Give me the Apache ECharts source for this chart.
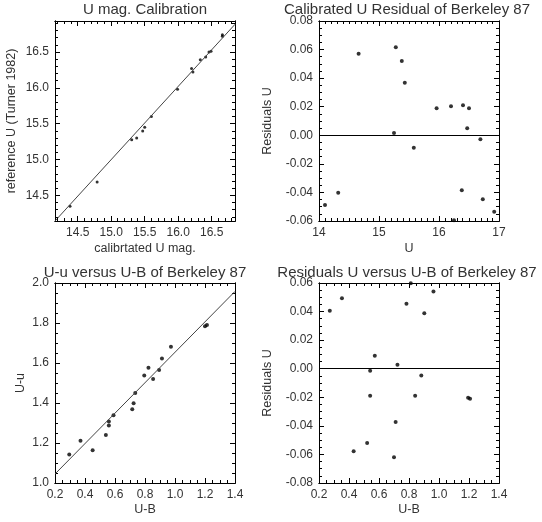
<!DOCTYPE html>
<html>
<head>
<meta charset="utf-8">
<script src="https://cdn.jsdelivr.net/npm/echarts@6/dist/echarts.min.js"></script>
<style>html,body{margin:0;padding:0;background:#fff;}#chart{width:542px;height:522px;}</style>
</head>
<body>
<div id="chart"></div>
<script>
// ---------- Panel 1: U mag. Calibration ----------
const p1Title = 'U mag. Calibration';
const p1XName = 'calibrtated U mag.';
const p1YName = 'reference U (Turner 1982)';
const p1XRange = [14.161, 16.848];
const p1YRange = [14.142, 16.932];
const p1XTickLabels = ['14.5', '15.0', '15.5', '16.0', '16.5'];
const p1YTickLabels = ['14.5', '15.0', '15.5', '16.0', '16.5'];
const p1CalibU = [14.385, 14.79, 15.306, 15.38, 15.47, 15.50, 15.60, 15.99, 16.20, 16.22, 16.33, 16.41, 16.46, 16.49, 16.66, 16.66];
const p1RefU   = [14.347, 14.686, 15.277, 15.30, 15.397, 15.45, 15.60, 15.98, 16.27, 16.22, 16.39, 16.43, 16.50, 16.51, 16.74, 16.72];
const p1FitX = [14.161, 16.848];
const p1FitY = [14.142, 16.886];

// ---------- Panel 2: Calibrated U Residual ----------
const p2Title = 'Calibrated U Residual of Berkeley 87';
const p2XName = 'U';
const p2YName = 'Residuals U';
const p2XRange = [14, 17];
const p2YRange = [-0.06, 0.08];
const p2XTickLabels = ['14', '15', '16', '17'];
const p2YTickLabels = ['-0.06', '-0.04', '-0.02', '0.00', '0.02', '0.04', '0.06', '0.08'];
const p2U   = [14.10, 14.32, 14.66, 15.25, 15.28, 15.38, 15.43, 15.58, 15.96, 16.20, 16.25, 16.38, 16.40, 16.47, 16.50, 16.69, 16.73, 16.92];
const p2Res = [-0.0488, -0.0402, 0.0571, 0.0016, 0.0616, 0.052, 0.0368, -0.0087, 0.0189, 0.0203, -0.0595, -0.0385, 0.021, 0.0049, 0.0189, -0.0028, -0.0448, -0.0535];

// ---------- Panel 3: U-u versus U-B ----------
const p3Title = 'U-u versus U-B of Berkeley 87';
const p3XName = 'U-B';
const p3YName = 'U-u';
const p3XRange = [0.2, 1.4];
const p3YRange = [1.0, 2.0];
const p3XTickLabels = ['0.2', '0.4', '0.6', '0.8', '1.0', '1.2', '1.4'];
const p3YTickLabels = ['1.0', '1.2', '1.4', '1.6', '1.8', '2.0'];
const p3UB = [0.295, 0.370, 0.451, 0.539, 0.559, 0.559, 0.590, 0.715, 0.724, 0.735, 0.795, 0.823, 0.854, 0.894, 0.913, 0.973, 1.200, 1.213];
const p3Uu = [1.143, 1.211, 1.164, 1.240, 1.287, 1.307, 1.339, 1.369, 1.399, 1.450, 1.537, 1.576, 1.520, 1.565, 1.622, 1.681, 1.784, 1.790];
const p3FitX = [0.2, 1.4];
const p3FitY = [1.045, 1.958];

// ---------- Panel 4: Residuals U versus U-B ----------
const p4Title = 'Residuals U versus U-B of Berkeley 87';
const p4XName = 'U-B';
const p4YName = 'Residuals U';
const p4XRange = [0.2, 1.4];
const p4YRange = [-0.08, 0.06];
const p4XTickLabels = ['0.2', '0.4', '0.6', '0.8', '1.0', '1.2', '1.4'];
const p4YTickLabels = ['-0.08', '-0.06', '-0.04', '-0.02', '0.00', '0.02', '0.04', '0.06'];
const p4UB  = [0.272, 0.353, 0.431, 0.521, 0.541, 0.541, 0.572, 0.700, 0.711, 0.723, 0.783, 0.812, 0.841, 0.882, 0.902, 0.963, 1.194, 1.207];
const p4Res = [0.0405, 0.0494, -0.0577, -0.052, -0.0015, -0.0189, 0.009, -0.0619, -0.0373, 0.0027, 0.0454, 0.0598, -0.0189, -0.0048, 0.0389, 0.0541, -0.0203, -0.0211];

// minor tick steps
const p1MinorX = 0.1, p1MinorY = 0.1;
const p2MinorX = 0.1, p2MinorY = 0.005;
const p3MinorX = 0.05, p3MinorY = 0.05;
const p4MinorX = 0.05, p4MinorY = 0.005;

// ---------- styling / layout ----------
const FONT = 'Liberation Sans';
const TXT = '#333';
const TICK_COLOR = '#000';
const MAJOR_LEN = 5, MINOR_LEN = 3;
const grids = [
  {left: 55, top: 21, width: 180, height: 200},
  {left: 319, top: 21, width: 180, height: 200},
  {left: 55, top: 283, width: 180, height: 200},
  {left: 319, top: 283, width: 180, height: 200}
];

function minorValues(range, step) {
  const out = [];
  const a = Math.ceil(range[0] / step - 1e-6), b = Math.floor(range[1] / step + 1e-6);
  for (let k = a; k <= b; k++) out.push(+(k * step).toFixed(6));
  return out;
}
function fmt(v, labels) {
  let best = labels[0], bd = Infinity;
  labels.forEach(l => { const d = Math.abs(Number(l) - v); if (d < bd) { bd = d; best = l; } });
  return best;
}
// four axes per dimension: main (labels + major ticks), minor-tick axis, both repeated on the opposite side
function makeAxes(dim, gi, range, labels, minorStep, name, nameGap) {
  const majors = labels.map(Number);
  const minors = minorValues(range, minorStep);
  const posA = dim === 'x' ? 'bottom' : 'left';
  const posB = dim === 'x' ? 'top' : 'right';
  const base = {
    type: 'value', gridIndex: gi, min: range[0], max: range[1],
    splitLine: {show: false},
    axisLine: {show: true, onZero: false, lineStyle: {color: '#000', width: 1}}
  };
  const tick = (vals, len) => (dim === 'y'
    ? {show: true, inside: true, length: len, customValues: vals, lineStyle: {color: TICK_COLOR, width: 1}}
    : {show: false});
  return [
    Object.assign({}, base, {
      position: posA, name: name, nameLocation: 'middle', nameGap: nameGap,
      nameTextStyle: {fontFamily: FONT, fontSize: 12.5, color: TXT},
      axisTick: tick(majors, MAJOR_LEN),
      axisLabel: {show: true, customValues: majors, formatter: v => fmt(v, labels), margin: 6,
                  fontFamily: FONT, fontSize: 12, color: TXT, showMinLabel: true, showMaxLabel: true}
    }),
    Object.assign({}, base, {position: posA, axisTick: tick(minors, MINOR_LEN), axisLabel: {show: false}}),
    Object.assign({}, base, {position: posB, axisTick: tick(majors, MAJOR_LEN), axisLabel: {show: false}}),
    Object.assign({}, base, {position: posB, axisTick: tick(minors, MINOR_LEN), axisLabel: {show: false}})
  ];
}

const xAxis = [].concat(
  makeAxes('x', 0, p1XRange, p1XTickLabels, p1MinorX, p1XName, 21),
  makeAxes('x', 1, p2XRange, p2XTickLabels, p2MinorX, p2XName, 21),
  makeAxes('x', 2, p3XRange, p3XTickLabels, p3MinorX, p3XName, 20),
  makeAxes('x', 3, p4XRange, p4XTickLabels, p4MinorX, p4XName, 20)
);
const yAxis = [].concat(
  makeAxes('y', 0, p1YRange, p1YTickLabels, p1MinorY, p1YName, 37),
  makeAxes('y', 1, p2YRange, p2YTickLabels, p2MinorY, p2YName, 45),
  makeAxes('y', 2, p3YRange, p3YTickLabels, p3MinorY, p3YName, 28),
  makeAxes('y', 3, p4YRange, p4YTickLabels, p4MinorY, p4YName, 45)
);

const zip = (a, b) => a.map((v, i) => [v, b[i]]);
function scatter(gi, xs, ys, size) {
  return {type: 'scatter', xAxisIndex: gi * 4, yAxisIndex: gi * 4, data: zip(xs, ys),
          symbol: 'circle', symbolSize: size, itemStyle: {color: '#000'}, silent: true, clip: false};
}
function fit(gi, xs, ys) {
  return {type: 'line', xAxisIndex: gi * 4, yAxisIndex: gi * 4, data: zip(xs, ys), symbol: 'none',
          lineStyle: {color: '#444', width: 1}, silent: true, animation: false};
}
function zeroLine(gi) {
  return {type: 'line', xAxisIndex: gi * 4, yAxisIndex: gi * 4, data: [], silent: true,
          markLine: {silent: true, symbol: 'none', label: {show: false}, animation: false,
                     lineStyle: {color: '#000', width: 1, type: 'solid'}, data: [{yAxis: 0}]}};
}

const titleCenters = [[145, 10], [407, 10], [145, 273], [407, 273]];
const titles = [p1Title, p2Title, p3Title, p4Title];
const titleGraphics = titles.map((t, i) => ({
  type: 'text', x: titleCenters[i][0], y: titleCenters[i][1],
  style: {text: t, fontFamily: FONT, fontSize: 15, fill: TXT, textAlign: 'center', textVerticalAlign: 'middle'}
}));

// series order: the scatter series of panel k sits at index scatterIdx[k]
const series = [
  scatter(0, p1CalibU, p1RefU, 3),
  scatter(1, p2U, p2Res, 4),
  scatter(2, p3UB, p3Uu, 4),
  scatter(3, p4UB, p4Res, 4),
  fit(0, p1FitX, p1FitY),
  zeroLine(1),
  fit(2, p3FitX, p3FitY),
  zeroLine(3)
];
const scatterIdx = [0, 1, 2, 3];

const option = {
  backgroundColor: '#fff',
  animation: false,
  grid: grids,
  xAxis: xAxis,
  yAxis: yAxis,
  graphic: titleGraphics,
  series: series
};
const chart = echarts.init(document.getElementById('chart'), null, {renderer: 'canvas'});
chart.setOption(option);

// inward x-axis tick marks (bottom and top), placed through the chart's own axis scales
const xTickPanels = [
  {gi: 0, yr: p1YRange, xr: p1XRange, labels: p1XTickLabels, minor: p1MinorX},
  {gi: 1, yr: p2YRange, xr: p2XRange, labels: p2XTickLabels, minor: p2MinorX},
  {gi: 2, yr: p3YRange, xr: p3XRange, labels: p3XTickLabels, minor: p3MinorX},
  {gi: 3, yr: p4YRange, xr: p4XRange, labels: p4XTickLabels, minor: p4MinorX}
];
const tickGraphics = [];
xTickPanels.forEach(p => {
  const finder = {seriesIndex: scatterIdx[p.gi]};
  const add = (v, len) => {
    let b = null, t = null;
    try {
      b = chart.convertToPixel(finder, [v, p.yr[0]]);
      t = chart.convertToPixel(finder, [v, p.yr[1]]);
    } catch (e) { return; }
    if (!b || !t || !isFinite(b[0]) || !isFinite(b[1]) || !isFinite(t[1])) return;
    const px = Math.round(b[0] - 0.5) + 0.5;
    const yb = Math.round(b[1]), yt = Math.round(t[1]);
    const style = {stroke: TICK_COLOR, lineWidth: 1};
    tickGraphics.push({type: 'line', silent: true, z: 100, shape: {x1: px, y1: yb, x2: px, y2: yb - len}, style: style});
    tickGraphics.push({type: 'line', silent: true, z: 100, shape: {x1: px, y1: yt, x2: px, y2: yt + len}, style: style});
  };
  minorValues(p.xr, p.minor).forEach(v => add(v, MINOR_LEN));
  p.labels.map(Number).forEach(v => add(v, MAJOR_LEN));
});
chart.setOption({graphic: titleGraphics.concat(tickGraphics)});
</script>
</body>
</html>
